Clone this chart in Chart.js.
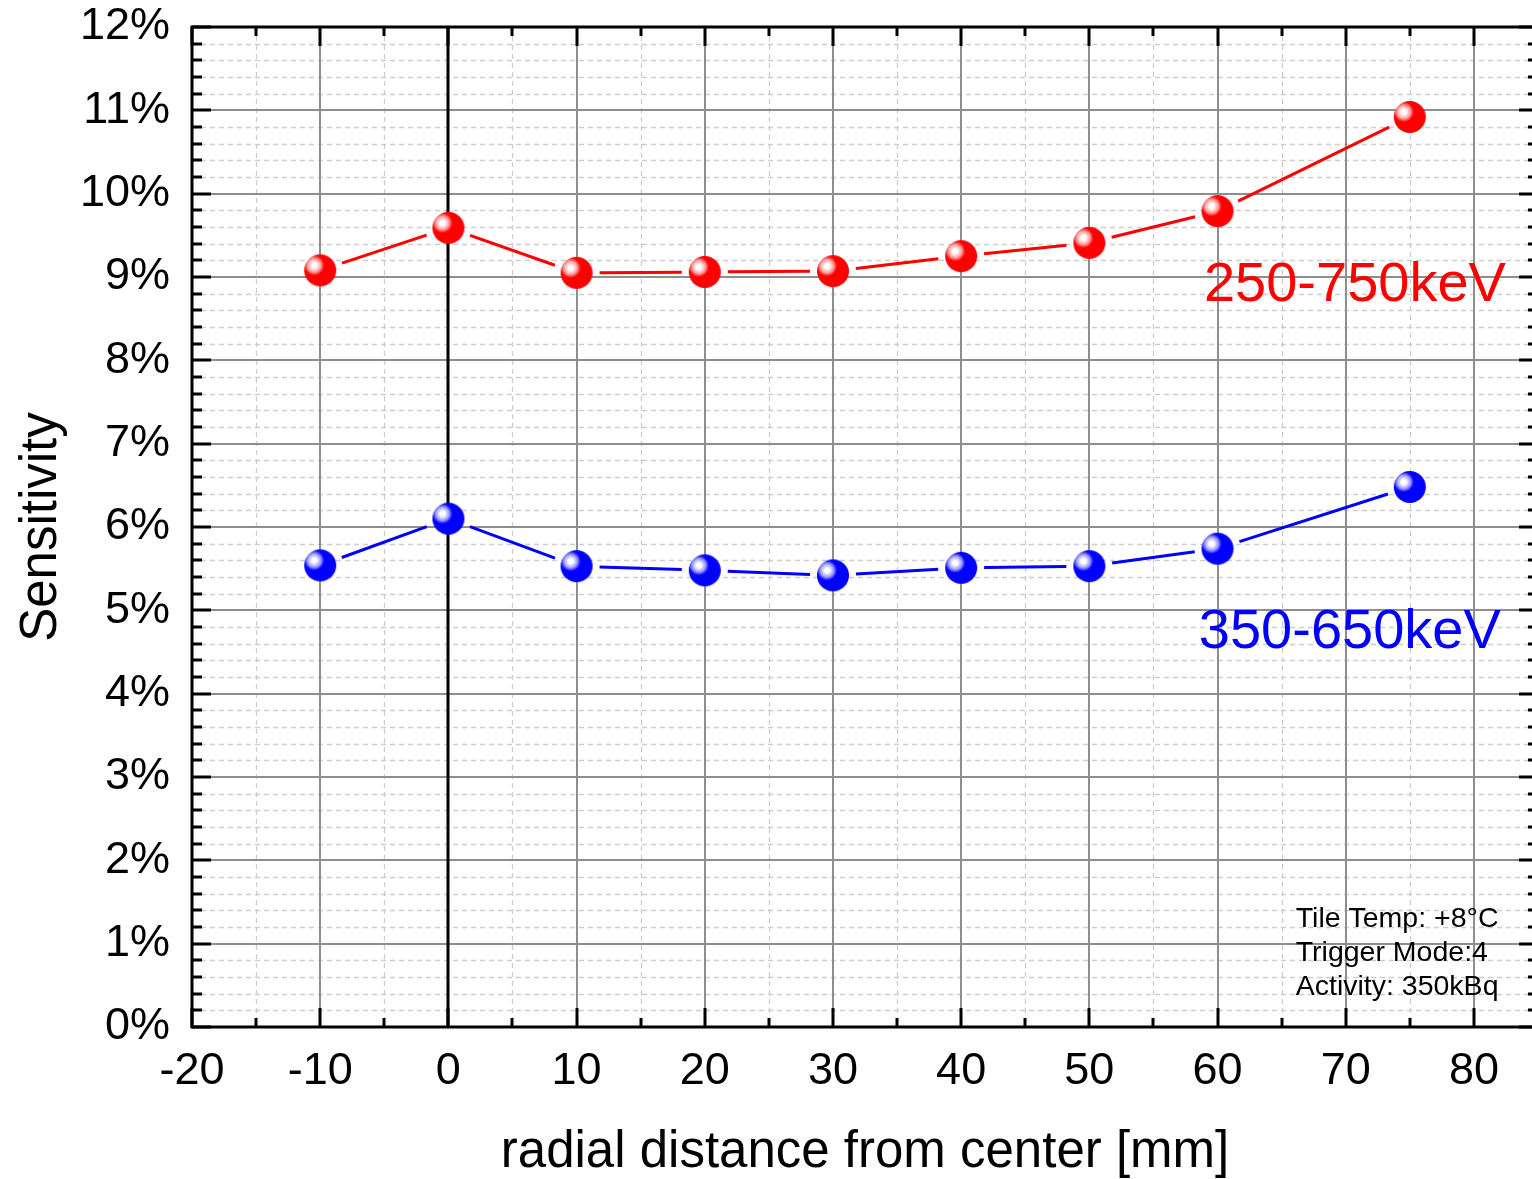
<!DOCTYPE html>
<html lang="en">
<head>
    <meta charset="UTF-8">
    <title>Sensitivity vs radial distance</title>
    <style>
        html, body {
            margin: 0;
            padding: 0;
            background: #fff;
            overflow: hidden;
        }
        #wrap {
            width: 1545px;
            height: 1179px;
        }
    </style>
</head>
<body>
    <div id="wrap">
        <canvas id="chart" width="1545" height="1179"></canvas>
    </div>

    <script src="https://cdn.jsdelivr.net/npm/chart.js"></script>
    <script>
        // measured positions (mm)
        const distances = [-10, 0, 10, 20, 30, 40, 50, 60, 75];
        // sensitivity in %
        const wide = [9.08, 9.59, 9.05, 9.06, 9.07, 9.25, 9.41, 9.79, 10.92];    // 250-750keV
        const narrow = [5.54, 6.10, 5.53, 5.48, 5.42, 5.51, 5.53, 5.74, 6.48];  // 350-650keV

        const xTicks = [-20, -10, 0, 10, 20, 30, 40, 50, 60, 70, 80];
        const yTicks = [0, 1, 2, 3, 4, 5, 6, 7, 8, 9, 10, 11, 12];
        const infoLines = ['Tile Temp: +8°C', 'Trigger Mode:4', 'Activity: 350kBq'];

        const FONT = 'Liberation Sans, Arial, sans-serif';

        // shiny ball marker
        function ball(color, light) {
            const s = 36, c = document.createElement('canvas');
            c.width = s; c.height = s;
            const g = c.getContext('2d');
            const cx = s / 2, cy = s / 2, r = 16;
            const grad = g.createRadialGradient(cx - 6, cy - 5, 0, cx - 6, cy - 5, 24);
            grad.addColorStop(0, '#ffffff');
            grad.addColorStop(0.1, '#ffffff');
            grad.addColorStop(0.28, light);
            grad.addColorStop(0.42, color);
            grad.addColorStop(1, color);
            g.fillStyle = grad;
            g.beginPath();
            g.arc(cx, cy, r, 0, Math.PI * 2);
            g.fill();
            return c;
        }

        // leave a gap between line and markers, like the original plot
        const GAP = 23;
        function gapDash(ctx) {
            const a = ctx.p0, b = ctx.p1;
            const len = Math.hypot(b.x - a.x, b.y - a.y);
            return [0, GAP, Math.max(len - 2 * GAP, 0), 2000];
        }

        function noPad(s) {
            s.paddingTop = 0; s.paddingBottom = 0;
            s.paddingLeft = 0; s.paddingRight = 0;
        }

        const framePlugin = {
            id: 'frame',
            beforeDatasetsDraw(chart) {
                const { ctx, chartArea: a, scales: { x, y } } = chart;
                ctx.save();
                // minor dashed grid
                ctx.strokeStyle = '#cdcdcd';
                ctx.lineWidth = 1.3;
                ctx.setLineDash([5, 4]);
                for (let v = -15; v <= 85; v += 10) {
                    const px = Math.round(x.getPixelForValue(v)) + 0.5;
                    ctx.beginPath(); ctx.moveTo(px, a.top); ctx.lineTo(px, a.bottom); ctx.stroke();
                }
                for (let i = 0; i <= 60; i++) {
                    if (i % 5 === 0) continue;
                    const py = Math.round(y.getPixelForValue(i * 0.2)) + 0.5;
                    ctx.beginPath(); ctx.moveTo(a.left, py); ctx.lineTo(a.right, py); ctx.stroke();
                }
                ctx.setLineDash([]);
                // major grid
                ctx.strokeStyle = '#8e8e8e';
                ctx.lineWidth = 2;
                xTicks.forEach(v => {
                    const px = Math.round(x.getPixelForValue(v));
                    ctx.beginPath(); ctx.moveTo(px, a.top); ctx.lineTo(px, a.bottom); ctx.stroke();
                });
                yTicks.forEach(v => {
                    const py = Math.round(y.getPixelForValue(v));
                    ctx.beginPath(); ctx.moveTo(a.left, py); ctx.lineTo(a.right, py); ctx.stroke();
                });
                // zero line
                ctx.strokeStyle = '#000';
                ctx.lineWidth = 3;
                const x0 = Math.round(x.getPixelForValue(0));
                ctx.beginPath(); ctx.moveTo(x0, a.top); ctx.lineTo(x0, a.bottom); ctx.stroke();
                ctx.restore();
            },
            afterDatasetsDraw(chart) {
                const { ctx, chartArea: a, scales: { x, y } } = chart;
                ctx.save();
                ctx.strokeStyle = '#000';
                ctx.lineWidth = 3;
                ctx.strokeRect(a.left, a.top, a.right - a.left, a.bottom - a.top);
                // inward ticks on all sides
                for (let v = -20; v <= 85; v += 5) {
                    const px = Math.round(x.getPixelForValue(v));
                    const len = v % 10 === 0 ? 19 : 9;
                    ctx.beginPath();
                    ctx.moveTo(px, a.bottom); ctx.lineTo(px, a.bottom - len);
                    ctx.moveTo(px, a.top); ctx.lineTo(px, a.top + len);
                    ctx.stroke();
                }
                for (let i = 0; i <= 60; i++) {
                    const py = Math.round(y.getPixelForValue(i * 0.2));
                    const len = i % 5 === 0 ? 19 : 10;
                    ctx.beginPath();
                    ctx.moveTo(a.left, py); ctx.lineTo(a.left + len, py);
                    ctx.moveTo(a.right, py); ctx.lineTo(a.right - len, py);
                    ctx.stroke();
                }
                // series labels
                ctx.font = '56px ' + FONT;
                ctx.textAlign = 'right';
                ctx.textBaseline = 'middle';
                ctx.fillStyle = '#ff0000';
                ctx.fillText('250-750keV', x.getPixelForValue(82.5), y.getPixelForValue(8.9));
                ctx.fillStyle = '#0000ff';
                ctx.fillText('350-650keV', x.getPixelForValue(82.1), y.getPixelForValue(4.73));
                // info box
                ctx.font = '28.5px ' + FONT;
                ctx.textAlign = 'left';
                ctx.fillStyle = '#000';
                const ix = x.getPixelForValue(66.1);
                infoLines.forEach((t, i) => {
                    ctx.fillText(t, ix, y.getPixelForValue(1.30) + i * 34);
                });
                ctx.restore();
            }
        };

        new Chart(document.getElementById('chart'), {
            type: 'line',
            data: {
                datasets: [
                    {
                        label: '250-750keV',
                        data: distances.map((d, i) => ({ x: d, y: wide[i] })),
                        borderColor: '#ff0000',
                        borderWidth: 3,
                        pointStyle: ball('#ff0000', '#ff9a9a'),
                        segment: { borderDash: gapDash }
                    },
                    {
                        label: '350-650keV',
                        data: distances.map((d, i) => ({ x: d, y: narrow[i] })),
                        borderColor: '#0000ff',
                        borderWidth: 3,
                        pointStyle: ball('#0000ff', '#9a9aff'),
                        segment: { borderDash: gapDash }
                    }
                ]
            },
            options: {
                responsive: false,
                animation: false,
                layout: { padding: { top: 27, right: 7, left: 0, bottom: 0 } },
                plugins: {
                    legend: { display: false },
                    tooltip: { enabled: false }
                },
                scales: {
                    x: {
                        type: 'linear',
                        min: -20,
                        max: 85,
                        grid: { display: false },
                        border: { display: false },
                        afterBuildTicks: s => { s.ticks = xTicks.map(v => ({ value: v })); },
                        afterFit: s => { s.height = 152; noPad(s); },
                        ticks: {
                            padding: 10,
                            color: '#000',
                            font: { size: 45, family: FONT },
                            maxRotation: 0,
                            autoSkip: false
                        },
                        title: {
                            display: true,
                            text: 'radial distance from center [mm]',
                            color: '#000',
                            font: { size: 51, family: FONT },
                            padding: { top: 0, bottom: -5 }
                        }
                    },
                    y: {
                        min: 0,
                        max: 12,
                        grid: { display: false },
                        border: { display: false },
                        afterBuildTicks: s => { s.ticks = yTicks.map(v => ({ value: v })); },
                        afterFit: s => { s.width = 192; noPad(s); },
                        ticks: {
                            padding: 14,
                            color: '#000',
                            font: { size: 45, family: FONT },
                            callback: v => v + '%'
                        },
                        title: {
                            display: true,
                            text: 'Sensitivity',
                            color: '#000',
                            font: { size: 51, family: FONT },
                            padding: { top: 11 }
                        }
                    }
                }
            },
            plugins: [framePlugin]
        });
    </script>
</body>
</html>
